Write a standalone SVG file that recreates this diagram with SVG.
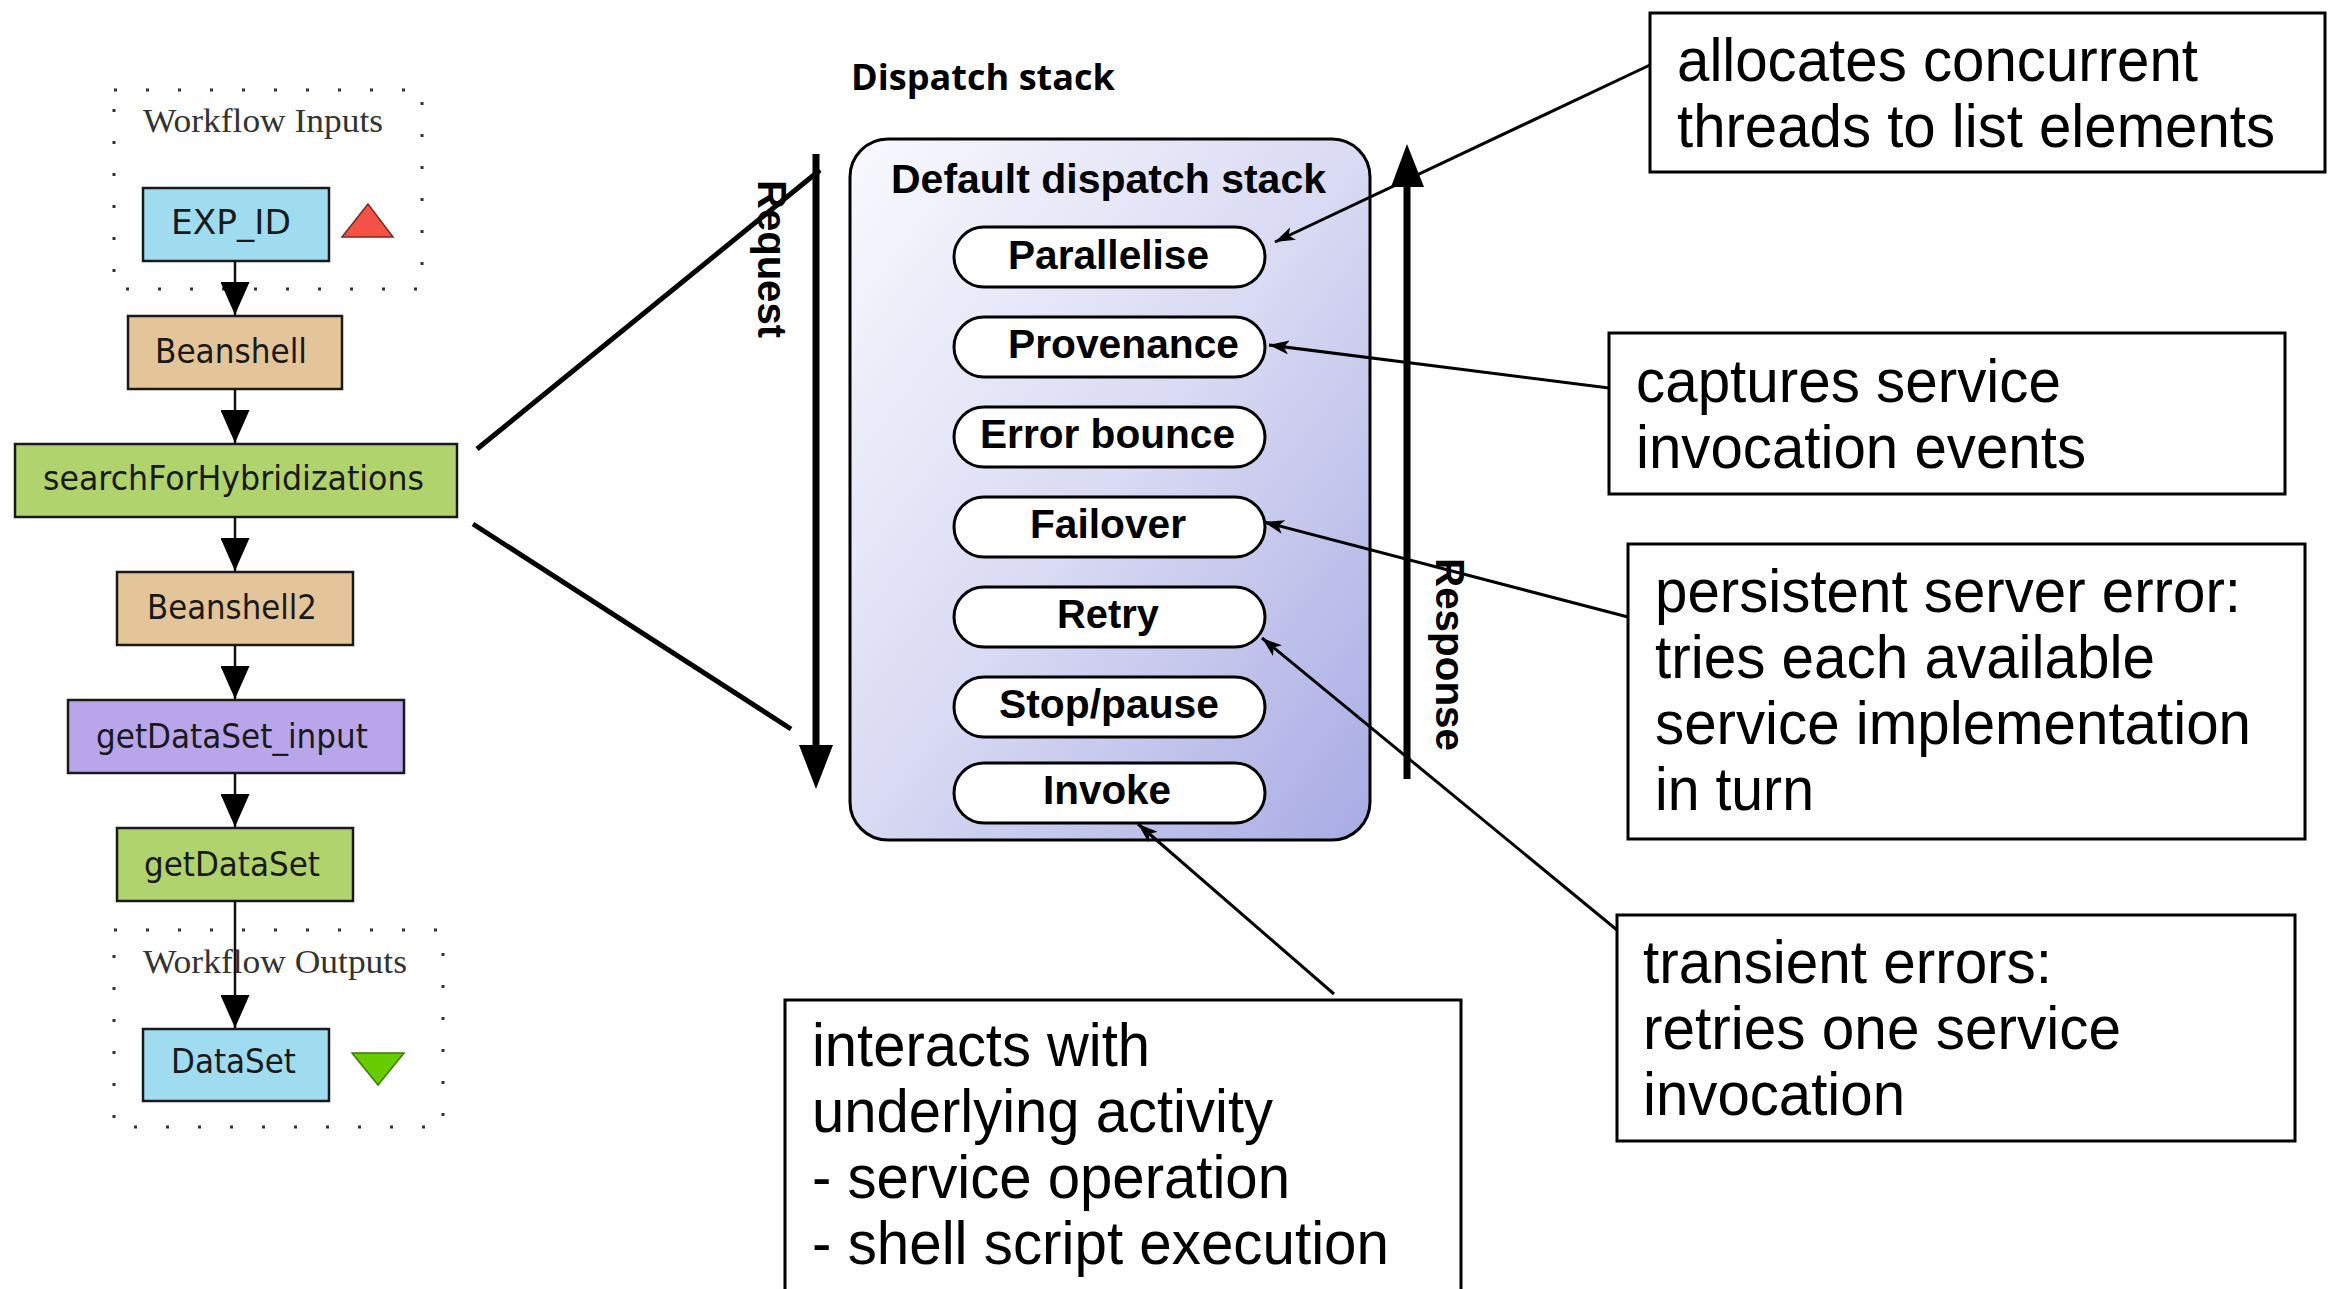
<svg xmlns="http://www.w3.org/2000/svg" width="2332" height="1289" viewBox="0 0 2332 1289">
  <style>
    .wfbox { stroke: #1a1a1a; stroke-width: 2.5; }
    .wftext { font-family: "DejaVu Sans", "Liberation Sans", sans-serif; font-size: 33px; fill: #1a1a1a; }
    .port { fill: none; stroke: #333; stroke-width: 3; stroke-dasharray: 3 29; }
    .portlabel { font-family: "Liberation Serif", serif; font-size: 33px; fill: #333; }
    .flow { stroke: #111; stroke-width: 2.5; fill: none; marker-end: url(#wfhead); }
    .pill { fill: #fff; stroke: #000; stroke-width: 3; }
    .layer { font-family: "Liberation Sans", Arial, sans-serif; font-weight: bold; font-size: 40px; fill: #000; }
    .note { fill: #fff; stroke: #000; stroke-width: 3; }
    .notetext { font-family: "Liberation Sans", Arial, sans-serif; font-size: 62px; fill: #000; }
    .pointer { stroke: #000; stroke-width: 3; fill: none; marker-end: url(#barb); }
    .fan { stroke: #000; stroke-width: 5; fill: none; }
    .dir { stroke: #000; stroke-width: 7; fill: none; }
    .dirlabel { font-family: "Liberation Sans", Arial, sans-serif; font-weight: bold; font-size: 40px; fill: #000; }
  </style>
  <defs>
    <marker id="wfhead" markerUnits="userSpaceOnUse" viewBox="0 0 33 29" refX="33" refY="14.5" markerWidth="33" markerHeight="29" orient="auto">
      <path d="M0,0 L33,14.5 L0,29 z" fill="#000"/>
    </marker>
    <marker id="barb" markerUnits="userSpaceOnUse" viewBox="0 0 20 14" refX="20" refY="7" markerWidth="20" markerHeight="14" orient="auto">
      <path d="M0,0 L20,7 L0,14 L5,7 z" fill="#000"/>
    </marker>
    <linearGradient id="stackfill" x1="0" y1="0" x2="1" y2="1">
      <stop offset="0" stop-color="#f9f9fe"/>
      <stop offset="0.5" stop-color="#d9daf3"/>
      <stop offset="1" stop-color="#a8abe4"/>
    </linearGradient>
  </defs>

  <rect width="2332" height="1289" fill="#fff"/>

  <!-- workflow ports -->
  <g id="workflow-inputs">
    <rect class="port" x="114" y="90" width="308" height="199"/>
    <text class="portlabel" x="143" y="132" textLength="240" lengthAdjust="spacingAndGlyphs">Workflow Inputs</text>
  </g>
  <g id="workflow-outputs">
    <rect class="port" x="114" y="930" width="329" height="197"/>
    <text class="portlabel" x="143" y="973" textLength="264" lengthAdjust="spacingAndGlyphs">Workflow Outputs</text>
  </g>

  <!-- workflow processors -->
  <g id="exp-id">
    <rect class="wfbox" x="143" y="188" width="186" height="73" fill="#a0dcf0"/>
    <text class="wftext" x="171" y="234" textLength="120" lengthAdjust="spacingAndGlyphs">EXP_ID</text>
    <polygon points="342,237 368,204 393,237" fill="#f45246" stroke="#7a2a22" stroke-width="1.5"/>
  </g>
  <g id="beanshell">
    <rect class="wfbox" x="128" y="316" width="214" height="73" fill="#e4c499"/>
    <text class="wftext" x="155" y="363" textLength="152" lengthAdjust="spacingAndGlyphs">Beanshell</text>
  </g>
  <g id="search-for-hybridizations">
    <rect class="wfbox" x="15" y="444" width="442" height="73" fill="#b0d36d"/>
    <text class="wftext" x="43" y="490" textLength="381" lengthAdjust="spacingAndGlyphs">searchForHybridizations</text>
  </g>
  <g id="beanshell2">
    <rect class="wfbox" x="117" y="572" width="236" height="73" fill="#e4c499"/>
    <text class="wftext" x="147" y="619" textLength="170" lengthAdjust="spacingAndGlyphs">Beanshell2</text>
  </g>
  <g id="get-dataset-input">
    <rect class="wfbox" x="68" y="700" width="336" height="73" fill="#b9a6ea"/>
    <text class="wftext" x="96" y="748" textLength="272" lengthAdjust="spacingAndGlyphs">getDataSet_input</text>
  </g>
  <g id="get-dataset">
    <rect class="wfbox" x="117" y="828" width="236" height="73" fill="#b0d36d"/>
    <text class="wftext" x="144" y="876" textLength="176" lengthAdjust="spacingAndGlyphs">getDataSet</text>
  </g>
  <g id="dataset">
    <rect class="wfbox" x="143" y="1029" width="186" height="72" fill="#a0dcf0"/>
    <text class="wftext" x="171" y="1073" textLength="125" lengthAdjust="spacingAndGlyphs">DataSet</text>
    <polygon points="352,1053 404,1053 378,1085" fill="#66cc00" stroke="#3d7a00" stroke-width="1.5"/>
  </g>

  <!-- dispatch stack -->
  <g id="dispatch-stack">
    <text x="851" y="90" font-family="'Open Sans', 'DejaVu Sans', sans-serif" font-weight="bold" font-size="35" textLength="264" lengthAdjust="spacingAndGlyphs">Dispatch stack</text>
    <rect x="850" y="139" width="520" height="701" rx="38" ry="38" fill="url(#stackfill)" stroke="#000" stroke-width="3"/>
    <text class="layer" x="891" y="193" textLength="435" lengthAdjust="spacingAndGlyphs">Default dispatch stack</text>
  </g>
  <g id="parallelise">
    <rect class="pill" x="954" y="227" width="311" height="60" rx="30"/>
    <text class="layer" x="1008" y="269" textLength="201" lengthAdjust="spacingAndGlyphs">Parallelise</text>
  </g>
  <g id="provenance">
    <rect class="pill" x="954" y="317" width="311" height="60" rx="30"/>
    <text class="layer" x="1008" y="358" textLength="231" lengthAdjust="spacingAndGlyphs">Provenance</text>
  </g>
  <g id="error-bounce">
    <rect class="pill" x="954" y="407" width="311" height="60" rx="30"/>
    <text class="layer" x="980" y="448" textLength="255" lengthAdjust="spacingAndGlyphs">Error bounce</text>
  </g>
  <g id="failover">
    <rect class="pill" x="954" y="497" width="311" height="60" rx="30"/>
    <text class="layer" x="1030" y="538" textLength="156" lengthAdjust="spacingAndGlyphs">Failover</text>
  </g>
  <g id="retry">
    <rect class="pill" x="954" y="587" width="311" height="60" rx="30"/>
    <text class="layer" x="1057" y="628" textLength="102" lengthAdjust="spacingAndGlyphs">Retry</text>
  </g>
  <g id="stop-pause">
    <rect class="pill" x="954" y="677" width="311" height="60" rx="30"/>
    <text class="layer" x="999" y="718" textLength="220" lengthAdjust="spacingAndGlyphs">Stop/pause</text>
  </g>
  <g id="invoke">
    <rect class="pill" x="954" y="763" width="311" height="60" rx="30"/>
    <text class="layer" x="1043" y="804" textLength="128" lengthAdjust="spacingAndGlyphs">Invoke</text>
  </g>

  <!-- request / response direction arrows -->
  <g id="request">
    <line class="dir" x1="816" y1="154" x2="816" y2="750"/>
    <polygon points="799,745 833,745 816,789" fill="#000"/>
    <text class="dirlabel" transform="translate(758,180) rotate(90)" textLength="158" lengthAdjust="spacingAndGlyphs">Request</text>
  </g>
  <g id="response">
    <line class="dir" x1="1407" y1="779" x2="1407" y2="180"/>
    <polygon points="1391,187 1424,187 1407,144" fill="#000"/>
    <text class="dirlabel" transform="translate(1436,558) rotate(90)" textLength="193" lengthAdjust="spacingAndGlyphs">Response</text>
  </g>

  <!-- annotation boxes -->
  <g id="note-parallelise">
    <rect class="note" x="1650" y="13" width="675" height="159"/>
    <text class="notetext" font-size="68" x="1677" y="81" textLength="521" lengthAdjust="spacingAndGlyphs">allocates concurrent</text>
    <text class="notetext" font-size="68" x="1677" y="147" textLength="598" lengthAdjust="spacingAndGlyphs">threads to list elements</text>
  </g>
  <g id="note-provenance">
    <rect class="note" x="1609" y="333" width="676" height="161"/>
    <text class="notetext" x="1636" y="402" textLength="425" lengthAdjust="spacingAndGlyphs">captures service</text>
    <text class="notetext" x="1636" y="468" textLength="450" lengthAdjust="spacingAndGlyphs">invocation events</text>
  </g>
  <g id="note-failover">
    <rect class="note" x="1628" y="544" width="677" height="295"/>
    <text class="notetext" x="1655" y="612" textLength="586" lengthAdjust="spacingAndGlyphs">persistent server error:</text>
    <text class="notetext" x="1655" y="678" textLength="500" lengthAdjust="spacingAndGlyphs">tries each available</text>
    <text class="notetext" x="1655" y="744" textLength="596" lengthAdjust="spacingAndGlyphs">service implementation</text>
    <text class="notetext" x="1655" y="810" textLength="159" lengthAdjust="spacingAndGlyphs">in turn</text>
  </g>
  <g id="note-retry">
    <rect class="note" x="1617" y="915" width="678" height="226"/>
    <text class="notetext" x="1643" y="983" textLength="409" lengthAdjust="spacingAndGlyphs">transient errors:</text>
    <text class="notetext" x="1643" y="1049" textLength="478" lengthAdjust="spacingAndGlyphs">retries one service</text>
    <text class="notetext" x="1643" y="1115" textLength="262" lengthAdjust="spacingAndGlyphs">invocation</text>
  </g>
  <g id="note-invoke">
    <rect class="note" x="785" y="1000" width="676" height="320"/>
    <text class="notetext" x="812" y="1066" textLength="338" lengthAdjust="spacingAndGlyphs">interacts with</text>
    <text class="notetext" x="812" y="1132" textLength="461" lengthAdjust="spacingAndGlyphs">underlying activity</text>
    <text class="notetext" x="812" y="1198" textLength="478" lengthAdjust="spacingAndGlyphs">- service operation</text>
    <text class="notetext" x="812" y="1264" textLength="577" lengthAdjust="spacingAndGlyphs">- shell script execution</text>
  </g>

  <!-- connectors -->
  <g id="connectors">
    <line class="flow" x1="235" y1="261" x2="235" y2="315"/>
    <line class="flow" x1="235" y1="389" x2="235" y2="443"/>
    <line class="flow" x1="235" y1="517" x2="235" y2="571"/>
    <line class="flow" x1="235" y1="645" x2="235" y2="699"/>
    <line class="flow" x1="235" y1="773" x2="235" y2="827"/>
    <line class="flow" x1="235" y1="901" x2="235" y2="1028"/>
    <line class="fan" x1="477" y1="449" x2="820" y2="170"/>
    <line class="fan" x1="473" y1="524" x2="791" y2="729"/>
    <line class="pointer" x1="1650" y1="65" x2="1275" y2="242"/>
    <line class="pointer" x1="1609" y1="388" x2="1269" y2="345"/>
    <line class="pointer" x1="1628" y1="617" x2="1264" y2="522"/>
    <line class="pointer" x1="1617" y1="930" x2="1262" y2="638"/>
    <line class="pointer" x1="1334" y1="994" x2="1138" y2="824"/>
  </g>
</svg>
